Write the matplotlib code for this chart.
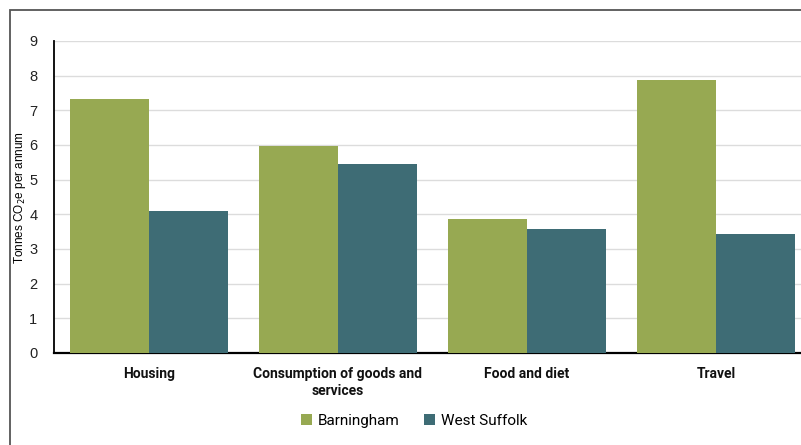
import matplotlib
matplotlib.use('Agg')
import matplotlib.pyplot as plt
import numpy as np
from matplotlib.patches import Rectangle

categories = ['Housing', 'Consumption of goods and\nservices', 'Food and diet', 'Travel']
barningham = [7.33, 5.97, 3.87, 7.87]
west_suffolk = [4.10, 5.45, 3.58, 3.43]
series_names = ['Barningham', 'West Suffolk']
colors = ['#97A952', '#3E6C75']

plt.rcParams['font.family'] = ['Roboto', 'DejaVu Sans']

fig = plt.figure(figsize=(8.01, 4.45), dpi=100)
# outer frame of the chart area
fig.patches.append(Rectangle((10 / 801, -0.1), 1.2, 1 - 10 / 445 + 0.1,
                             transform=fig.transFigure, fill=False,
                             edgecolor='#555555', linewidth=1.3))

ax = fig.add_axes([54 / 801, 1 - 353 / 445, 757 / 801, 312 / 445])

x = np.arange(len(categories))
w = 0.418
ax.bar(x - w / 2, barningham, w, color=colors[0], label=series_names[0], zorder=3)
ax.bar(x + w / 2, west_suffolk, w, color=colors[1], label=series_names[1], zorder=3)

ax.set_xlim(-0.5, len(categories) - 0.5)
ax.set_ylim(0, 9)
ax.set_yticks(range(0, 10))
ax.yaxis.grid(True, color='#dcdcdc', linewidth=1, zorder=0)
ax.set_axisbelow(True)

ax.set_xticks(x)
ax.set_xticklabels(categories, fontweight='bold', fontsize=10, color='#111111',
                   linespacing=1.3)
ax.tick_params(axis='x', length=0, pad=10)
ax.tick_params(axis='y', length=0, pad=12, labelsize=10.5, labelcolor='#222222')
for lbl in ax.get_yticklabels():
    lbl.set_family(['Liberation Sans', 'DejaVu Sans'])

for side in ['top', 'right']:
    ax.spines[side].set_visible(False)
ax.spines['left'].set_linewidth(1.3)
ax.spines['bottom'].set_linewidth(1.6)

fig.text(20 / 801, 1 - 197 / 445, r'Tonnes CO$_2$e per annum', rotation=90,
         ha='center', va='center', fontsize=8.5,
         family=['Liberation Sans', 'DejaVu Sans'])

fig.legend(loc='center', bbox_to_anchor=(414 / 801, 1 - 421 / 445), ncol=2,
           frameon=False, fontsize=11, handlelength=0.7, handleheight=0.7,
           handletextpad=0.4, columnspacing=1.6)

fig.savefig('out.png', dpi=100)
plt.close(fig)
